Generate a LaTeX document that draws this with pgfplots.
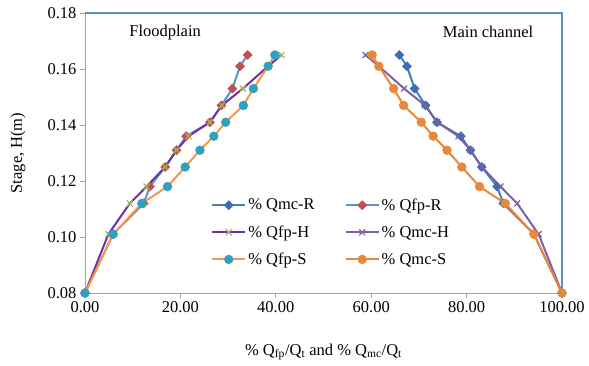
\documentclass[border=0pt]{standalone}
\usepackage{fontspec}
\setmainfont{Liberation Serif}
\usepackage{pgfplots}
\pgfplotsset{compat=1.18}
\usepackage{pgfplotstable}
\definecolor{cmcR}{HTML}{4A7EBB}
\definecolor{cmcRm}{HTML}{3C6EB4}
\definecolor{cfpR}{HTML}{5B93D0}
\definecolor{cfpRm}{HTML}{C0504D}
\definecolor{cfpH}{HTML}{7030A0}
\definecolor{cfpHm}{HTML}{9BBB59}
\definecolor{cmcH}{HTML}{7F5FA6}
\definecolor{cfpS}{HTML}{F79646}
\definecolor{cfpSm}{HTML}{31A0C0}
\definecolor{cmcS}{HTML}{E8883A}
\definecolor{caxis}{HTML}{98A6B8}
\definecolor{cbord}{HTML}{5B8FCC}

\pgfplotstableread{
y      fpR   mcR   fpH   mcH   fpS   mcS
0.080  0.0   100.0 0.0   100.0 0.0   100.0
0.101  5.9   94.1  4.9   95.1  5.9   94.1
0.112  12.3  87.7  9.4   90.6  11.9  88.1
0.118  13.6  86.4  12.9  87.1  17.3  82.7
0.125  16.8  83.2  16.8  83.2  21.0  79.0
0.131  19.2  80.8  19.2  80.8  24.1  75.9
0.136  21.2  78.8  21.7  78.3  27.0  73.0
0.141  26.2  73.8  26.2  73.8  29.5  70.5
0.147  28.6  71.4  28.7  71.3  33.2  66.8
0.153  30.9  69.1  33.1  66.9  35.3  64.7
0.161  32.5  67.5  38.4  61.6  38.4  61.6
0.165  34.1  65.9  41.2  58.8  39.8  60.2
}\data

\newcommand{\fs}{\fontsize{16.5}{19.8}\selectfont\rmfamily}

\begin{document}
\begin{tikzpicture}
\useasboundingbox (-85pt,-72pt) rectangle (504pt,293pt);
\begin{axis}[
  at={(0,0)}, anchor=south west,
  scale only axis, width=477pt, height=280pt,
  xmin=0, xmax=100, ymin=0.08, ymax=0.18,
  axis x line*=bottom, axis y line*=left,
  axis line style={caxis, line width=0.8pt},
  xtick={0,20,40,60,80,100},
  xticklabels={0.00,20.00,40.00,60.00,80.00,100.00},
  ytick={0.08,0.10,0.12,0.14,0.16,0.18},
  yticklabels={0.08,0.10,0.12,0.14,0.16,0.18},
  tick align=outside, major tick length=5pt,
  tick style={caxis, line width=0.8pt},
  minor tick num=0,
  ticklabel style={font=\fs},
  every axis x label/.style={at={(axis description cs:0.5,-0.2107)},anchor=center,font=\fs},
  every axis y label/.style={at={(axis description cs:-0.1405,0.5)},rotate=90,anchor=center,font=\fs},
  xlabel={\% Q\textsubscript{fp}/Q\textsubscript{t} and \% Q\textsubscript{mc}/Q\textsubscript{t}},
  ylabel={Stage, H(m)},
  clip=false,
  legend columns=2,
  legend cell align=left,
  legend style={at={(rel axis cs:0.258,0.352)}, anchor=north west, draw=none, fill=none,
    font=\fs, row sep=10pt,
    /tikz/every even column/.append style={column sep=28pt}},
  legend image code/.code={\draw[mark repeat=2,mark phase=2] plot coordinates {(0pt,0pt) (16.5pt,0pt) (33pt,0pt)};},
  every axis plot/.append style={line width=2pt},
]
\draw[cbord, line width=1.2pt] (rel axis cs:0,1) -- (rel axis cs:1,1) -- (rel axis cs:1,0);

\addplot[cmcR, mark=square*, mark size=3.2pt, mark options={rotate=45, fill=cmcRm, draw=cmcRm, line width=0.5pt}] table[x=mcR, y=y] {\data};
\addlegendentry{\% Qmc-R}
\addplot[cfpR, mark=square*, mark size=3.2pt, mark options={rotate=45, fill=cfpRm, draw=cfpRm, line width=0.5pt}] table[x=fpR, y=y] {\data};
\addlegendentry{\% Qfp-R}
\addplot[cfpH, mark=x, mark size=4.2pt, mark options={draw=cfpHm, line width=1.2pt}] table[x=fpH, y=y] {\data};
\addlegendentry{\% Qfp-H}
\addplot[cmcH, mark=x, mark size=4.2pt, mark options={draw=cmcH, line width=1.2pt}] table[x=mcH, y=y] {\data};
\addlegendentry{\% Qmc-H}
\addplot[cfpS, mark=*, mark size=4.4pt, mark options={fill=cfpSm, draw=cfpSm, line width=0.5pt}] table[x=fpS, y=y] {\data};
\addlegendentry{\% Qfp-S}
\addplot[cmcS, mark=*, mark size=4.4pt, mark options={fill=cmcS, draw=cmcS, line width=0.5pt}] table[x=mcS, y=y] {\data};
\addlegendentry{\% Qmc-S}

\node[font=\fs] at (axis cs:16.8,0.1732) {Floodplain};
\node[font=\fs] at (axis cs:84.5,0.1732) {Main channel};
\end{axis}
\end{tikzpicture}
\end{document}
